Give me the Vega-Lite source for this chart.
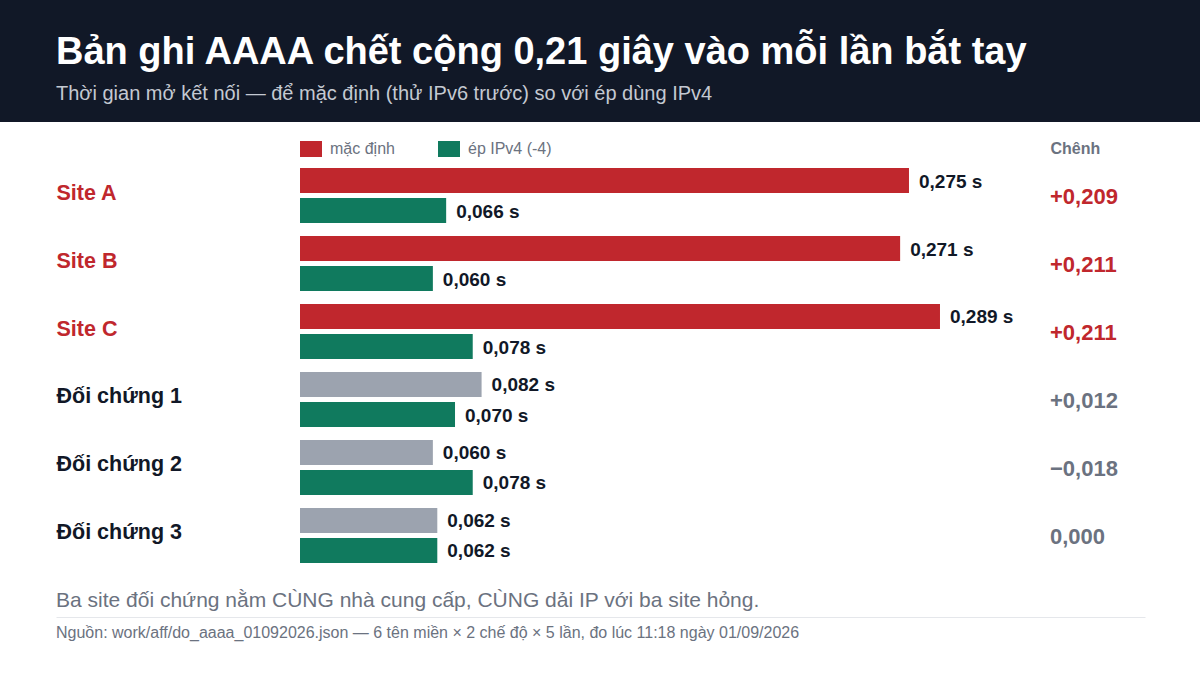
{
  "$schema": "https://vega.github.io/schema/vega-lite/v6.json",
  "width": 1200,
  "height": 553,
  "autosize": {"type": "none"},
  "padding": {"top": 122, "left": 0, "right": 0, "bottom": 0},
  "background": "#111827",
  "title": {
    "text": "Bản ghi AAAA chết cộng 0,21 giây vào mỗi lần bắt tay",
    "subtitle": "Thời gian mở kết nối — để mặc định (thử IPv6 trước) so với ép dùng IPv4",
    "anchor": "start",
    "frame": "group",
    "orient": "top",
    "dx": 56,
    "offset": 18,
    "font": "Liberation Sans",
    "fontSize": 38,
    "fontWeight": "bold",
    "color": "#ffffff",
    "subtitleFont": "Liberation Sans",
    "subtitleFontSize": 20,
    "subtitleColor": "#c4c9d2",
    "subtitlePadding": 12
  },
  "datasets": {
    "thoi_gian": [
      {"site": "Site A", "group": "hỏng", "mode": "mặc định", "t": 0.275},
      {"site": "Site A", "group": "hỏng", "mode": "ép IPv4 (-4)", "t": 0.066},
      {"site": "Site B", "group": "hỏng", "mode": "mặc định", "t": 0.271},
      {"site": "Site B", "group": "hỏng", "mode": "ép IPv4 (-4)", "t": 0.060},
      {"site": "Site C", "group": "hỏng", "mode": "mặc định", "t": 0.289},
      {"site": "Site C", "group": "hỏng", "mode": "ép IPv4 (-4)", "t": 0.078},
      {"site": "Đối chứng 1", "group": "đối chứng", "mode": "mặc định", "t": 0.082},
      {"site": "Đối chứng 1", "group": "đối chứng", "mode": "ép IPv4 (-4)", "t": 0.070},
      {"site": "Đối chứng 2", "group": "đối chứng", "mode": "mặc định", "t": 0.060},
      {"site": "Đối chứng 2", "group": "đối chứng", "mode": "ép IPv4 (-4)", "t": 0.078},
      {"site": "Đối chứng 3", "group": "đối chứng", "mode": "mặc định", "t": 0.062},
      {"site": "Đối chứng 3", "group": "đối chứng", "mode": "ép IPv4 (-4)", "t": 0.062}
    ],
    "chenh": [
      {"site": "Site A", "group": "hỏng", "diff": 0.209},
      {"site": "Site B", "group": "hỏng", "diff": 0.211},
      {"site": "Site C", "group": "hỏng", "diff": 0.211},
      {"site": "Đối chứng 1", "group": "đối chứng", "diff": 0.012},
      {"site": "Đối chứng 2", "group": "đối chứng", "diff": -0.018},
      {"site": "Đối chứng 3", "group": "đối chứng", "diff": 0}
    ],
    "chu_thich": [
      {"kind": "ghi chú", "text": "Ba site đối chứng nằm CÙNG nhà cung cấp, CÙNG dải IP với ba site hỏng."},
      {"kind": "nguồn", "text": "Nguồn: work/aff/do_aaaa_01092026.json — 6 tên miền × 2 chế độ × 5 lần, đo lúc 11:18 ngày 01/09/2026"}
    ]
  },
  "layer": [
    {
      "data": {"name": "thoi_gian"},
      "transform": [
        {"calculate": "replace(format(datum.t, '.3f'), '.', ',') + ' s'", "as": "nhan"}
      ],
      "encoding": {
        "y": {
          "field": "site",
          "type": "nominal",
          "sort": null,
          "scale": {
            "domain": ["Site A", "Site B", "Site C", "Đối chứng 1", "Đối chứng 2", "Đối chứng 3"],
            "range": [39.5, 447.5],
            "paddingInner": 0.191,
            "paddingOuter": 0.0956
          },
          "axis": {
            "orient": "left",
            "offset": -56,
            "domain": false,
            "ticks": false,
            "tickSize": 0,
            "grid": false,
            "title": null,
            "labelAlign": "left",
            "labelPadding": 0,
            "labelBaseline": "middle",
            "labelOffset": -2,
            "labelFont": "Liberation Sans",
            "labelFontSize": 21.5,
            "labelFontWeight": "bold",
            "labelLimit": 240,
            "labelColor": {"expr": "test(/^Site/, datum.value) ? '#c0272d' : '#111827'"}
          }
        },
        "yOffset": {
          "field": "mode",
          "type": "nominal",
          "scale": {"domain": ["mặc định", "ép IPv4 (-4)"], "paddingInner": 0.1667, "paddingOuter": 0}
        },
        "x": {
          "field": "t",
          "type": "quantitative",
          "scale": {"domain": [0, 0.3161], "range": [300, 1000], "nice": false},
          "axis": null
        }
      },
      "layer": [
        {
          "mark": {"type": "bar", "cornerRadius": 0},
          "encoding": {
            "color": {
              "field": "mode",
              "type": "nominal",
              "condition": {"test": "datum.group === 'đối chứng' && datum.mode === 'mặc định'", "value": "#9ca3af"},
              "scale": {"domain": ["mặc định", "ép IPv4 (-4)"], "range": ["#c0272d", "#107a5e"]},
              "legend": {
                "orient": "none",
                "legendX": 300,
                "legendY": 16,
                "direction": "horizontal",
                "title": null,
                "padding": 0,
                "symbolType": "M-1,-0.727L1,-0.727L1,0.727L-1,0.727Z",
                "symbolSize": 484,
                "symbolStrokeWidth": 0,
                "symbolOpacity": 1,
                "labelFont": "Liberation Sans",
                "labelFontSize": 16,
                "labelColor": "#6b7280",
                "labelOffset": 8,
                "columnPadding": 43
              }
            }
          }
        },
        {
          "mark": {
            "type": "text",
            "align": "left",
            "baseline": "middle",
            "dx": 10,
            "dy": 1,
            "font": "Liberation Sans",
            "fontSize": 19,
            "fontWeight": "bold",
            "color": "#111827"
          },
          "encoding": {"text": {"field": "nhan", "type": "nominal"}}
        }
      ]
    },
    {
      "data": {"name": "chenh"},
      "transform": [
        {"calculate": "(datum.diff > 0 ? '+' : datum.diff < 0 ? '−' : '') + replace(format(abs(datum.diff), '.3f'), '.', ',')", "as": "nhan"}
      ],
      "mark": {
        "type": "text",
        "align": "left",
        "baseline": "middle",
        "dy": 1.5,
        "font": "Liberation Sans",
        "fontSize": 22,
        "fontWeight": "bold"
      },
      "encoding": {
        "y": {
          "field": "site",
          "type": "nominal",
          "sort": null,
          "scale": {
            "domain": ["Site A", "Site B", "Site C", "Đối chứng 1", "Đối chứng 2", "Đối chứng 3"],
            "range": [39.5, 447.5],
            "paddingInner": 0.191,
            "paddingOuter": 0.0956
          },
          "axis": null
        },
        "x": {
          "datum": "Chênh",
          "type": "nominal",
          "scale": {"domain": ["Chênh"], "range": [1050, 1050]},
          "axis": {
            "orient": "top",
            "offset": -26,
            "domain": false,
            "ticks": false,
            "tickSize": 0,
            "grid": false,
            "title": null,
            "labelAngle": 0,
            "labelAlign": "left",
            "labelBaseline": "middle",
            "labelPadding": 0,
            "labelFont": "Liberation Sans",
            "labelFontSize": 16,
            "labelFontWeight": "bold",
            "labelColor": "#6b7280"
          }
        },
        "text": {"field": "nhan", "type": "nominal"},
        "color": {
          "condition": {"test": "datum.group === 'hỏng'", "value": "#c0272d"},
          "value": "#6b7280"
        }
      }
    },
    {
      "data": {"name": "chu_thich"},
      "mark": {"type": "text", "align": "left", "baseline": "alphabetic", "font": "Liberation Sans", "color": "#6b7280"},
      "encoding": {
        "y": {
          "field": "kind",
          "type": "nominal",
          "sort": null,
          "scale": {"domain": ["ghi chú", "nguồn"], "range": [485, 516], "padding": 0},
          "axis": null
        },
        "x": {
          "datum": "lề",
          "type": "nominal",
          "scale": {"domain": ["lề"], "range": [56, 1145], "padding": 0, "align": 0},
          "axis": {
            "orient": "top",
            "offset": -495,
            "domain": true,
            "domainColor": "#e5e7eb",
            "domainWidth": 1,
            "ticks": false,
            "labels": false,
            "grid": false,
            "title": null
          }
        },
        "size": {
          "field": "kind",
          "type": "ordinal",
          "scale": {"domain": ["ghi chú", "nguồn"], "range": [21, 16]},
          "legend": null
        },
        "text": {"field": "text", "type": "nominal"}
      }
    }
  ],
  "resolve": {
    "scale": {"x": "independent", "y": "independent"},
    "axis": {"x": "independent", "y": "independent"}
  },
  "config": {
    "font": "Liberation Sans",
    "view": {"fill": "#ffffff", "stroke": null}
  }
}
